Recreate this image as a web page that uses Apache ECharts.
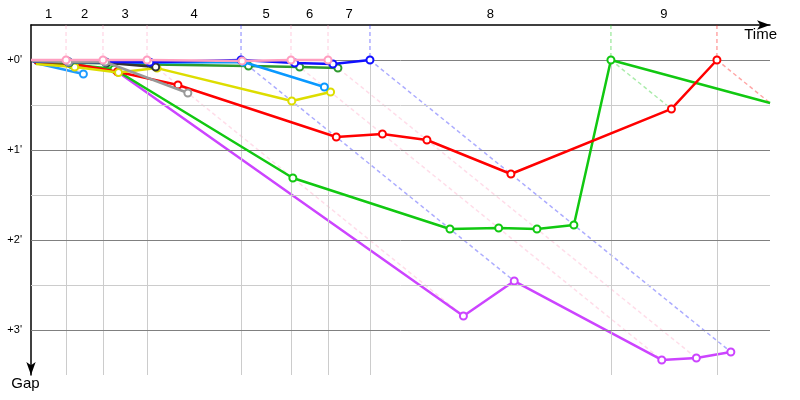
<!DOCTYPE html>
<html><head><meta charset="utf-8">
<script src="https://cdn.jsdelivr.net/npm/echarts@6/dist/echarts.min.js"></script>
<style>html,body{margin:0;padding:0;background:#fff}#c{width:800px;height:400px}</style>
</head><body><div id="c"></div>
<script>
// Lap labels and leader's elapsed time (minutes) at the end of each lap
const lapLabels = ['1','2','3','4','5','6','7','8','9'];
const lapTimes = [0.315, 0.647, 1.043, 1.888, 2.337, 2.670, 3.047, 5.213, 6.166];
// Gap ticks (minutes)
const gapTicks = [0, 1, 2, 3];
const gapHalfTicks = [0.5, 1.5, 2.5];
// Gap to leader (minutes) for each driver: index 0 = start, then lap 1, lap 2, ...
const gapsLightBlueA= [0.030, 0.156];
const gapsViolet    = [0.035, 0.040, 0.133, 2.844, 2.456, 3.333, 3.311, 3.244];
const gapsGreen     = [0.040, 0.050, 0.100, 1.311, 1.878, 1.867, 1.878, 1.833, 0, 0.478];
const gapsRed       = [0.030, 0.040, 0.130, 0.278, 0.856, 0.822, 0.889, 1.267, 0.544, 0];
const gapsYellow    = [0.045, 0.078, 0.140, 0.090, 0.456, 0.356];
const gapsDarkGreen = [0.020, 0.030, 0.035, 0.050, 0.067, 0.078, 0.089];
const gapsLightBlueB= [0.015, 0.020, 0.025, 0.030, 0.022, 0.300];
const gapsBlack     = [0.015, 0.015, 0.030, 0.078];
const gapsBlue      = [0.010, 0.022, 0.022, 0.025, 0, 0.033, 0.044, 0];
const gapsGray      = [0.010, 0.022, 0.022, 0.367];
const gapsPink      = [0, 0, 0, 0, 0.010, 0, 0];

const drivers = [
  {gaps: gapsLightBlueA, color: '#1e9bff'},
  {gaps: gapsViolet, color: '#cc44ff'},
  {gaps: gapsGreen, color: '#11c811'},
  {gaps: gapsRed, color: '#ff0000'},
  {gaps: gapsYellow, color: '#dddd00'},
  {gaps: gapsDarkGreen, color: '#2e9a2e'},
  {gaps: gapsLightBlueB, color: '#0a99ff'},
  {gaps: gapsBlack, color: '#333333'},
  {gaps: gapsBlue, color: '#1010ff'},
  {gaps: gapsGray, color: '#999999'},
  {gaps: gapsPink, color: '#ff9ec0'}
];

const yMin = -0.3889, yMax = 3.5, xMax = 6.643;
const startTimes = [0].concat(lapTimes);
const mids = lapTimes.map((t, i) => (startTimes[i] + t) / 2);

function hexA(hex, a) {
  const n = parseInt(hex.slice(1), 16);
  return 'rgba(' + ((n >> 16) & 255) + ',' + ((n >> 8) & 255) + ',' + (n & 255) + ',' + a + ')';
}

const series = [];
// grid lines
series.push({
  type: 'line', data: [[0, 0]], symbol: 'none', lineStyle: {opacity: 0}, z: 1, silent: true,
  markLine: {
    silent: true, symbol: 'none', label: {show: false}, animation: false,
    data: lapTimes.map(t => [{coord: [t, 0], lineStyle: {color: '#cccccc', width: 1, type: 'solid'}}, {coord: [t, yMax]}])
      .concat(gapHalfTicks.map(v => ({yAxis: v, lineStyle: {color: '#cccccc', width: 1, type: 'solid'}})))
      .concat(gapTicks.map(v => ({yAxis: v, lineStyle: {color: '#808080', width: 1, type: 'solid'}})))
  }
});
// leader reference lines (vertical + diagonal)
lapTimes.forEach((t, k) => {
  const lap = k + 1;
  let leader = null, maxGap = 0;
  drivers.forEach(d => {
    const g = d.gaps[lap];
    if (g === undefined || g === null) return;
    if (g === 0 && !leader) leader = d;
    if (g > maxGap) maxGap = g;
  });
  const color = leader ? leader.color : '#aaaaaa';
  series.push({
    type: 'line', z: 2, silent: true, symbol: 'none', animation: false,
    data: [[t, yMin], [t, 0], [t + maxGap, maxGap]],
    lineStyle: {color: hexA(color, 0.35), width: 1.5, type: [4, 3]}
  });
});
// drivers
drivers.forEach((d, i) => {
  const data = d.gaps.map((g, lap) => {
    const x = startTimes[lap] + g;
    return lap === 0 ? {value: [x, g], symbol: 'none'} : {value: [x, g]};
  });
  series.push({
    type: 'line', z: 3 + i, data: data, animation: false,
    symbol: 'emptyCircle', symbolSize: 7, showAllSymbol: true,
    itemStyle: {color: d.color, borderWidth: 1.5},
    lineStyle: {color: d.color, width: 2.5}
  });
});

const font = 'Liberation Sans';
const option = {
  animation: false,
  grid: {left: 31, right: 30, top: 25, bottom: 25},
  xAxis: {
    type: 'value', position: 'top', min: 0, max: xMax,
    axisLine: {show: true, onZero: false, symbol: ['none', 'arrow'], symbolSize: [7, 13],
      lineStyle: {color: '#000', width: 1.5}},
    axisTick: {show: false}, splitLine: {show: false},
    axisLabel: {
      customValues: mids, margin: 4, color: '#000', fontFamily: font, fontSize: 13,
      formatter: v => { const i = mids.findIndex(m => Math.abs(m - v) < 1e-6); return i >= 0 ? lapLabels[i] : ''; }
    },
    name: 'Time', nameLocation: 'end', nameGap: 7,
    nameTextStyle: {color: '#000', fontFamily: font, fontSize: 15, align: 'right', verticalAlign: 'top', padding: [2, 0, 0, 0]}
  },
  yAxis: {
    type: 'value', inverse: true, min: yMin, max: yMax,
    axisLine: {show: true, onZero: false, symbol: ['arrow', 'none'], symbolSize: [7, 13],
      lineStyle: {color: '#000', width: 1.5}},
    axisTick: {show: false}, splitLine: {show: false},
    axisLabel: {customValues: gapTicks, margin: 9, color: '#000', fontFamily: font, fontSize: 11,
      formatter: v => '+' + v + "'"},
    name: 'Gap', nameLocation: 'end', nameGap: 1,
    nameTextStyle: {color: '#000', fontFamily: font, fontSize: 15, align: 'center', verticalAlign: 'top', padding: [0, 11, 0, 0]}
  },
  series: series
};
const chart = echarts.init(document.getElementById('c'), null, {renderer: 'canvas'});
chart.setOption(option);
</script>
</body></html>
